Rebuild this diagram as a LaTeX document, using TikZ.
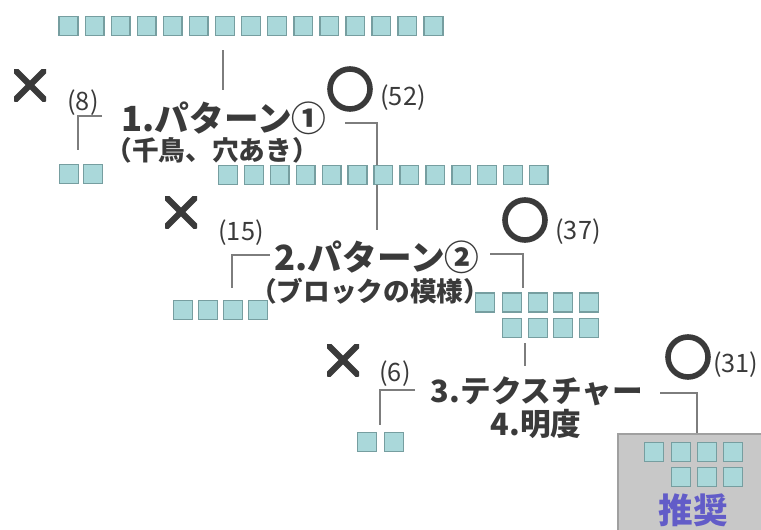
\documentclass[tikz,border=0pt]{standalone}
\usepackage{fontspec}
\newfontfamily\jpfont{Noto Sans CJK JP}
\usetikzlibrary{positioning, calc}
\definecolor{inkgray}{RGB}{58,58,58}
\definecolor{linegray}{RGB}{125,125,125}
\definecolor{tileface}{RGB}{170,216,218}
\definecolor{tileedge}{RGB}{118,158,160}
\definecolor{boxface}{RGB}{200,200,200}
\definecolor{boxedge}{RGB}{160,160,160}
\definecolor{pickblue}{RGB}{98,92,200}

\begin{document}
\begin{tikzpicture}[x=0.75pt, y=-0.75pt,
	tile/.style = {rectangle, draw=tileedge, fill=tileface, line width=1.1pt, minimum size=14pt, inner sep=0pt},
	title/.style = {font=\jpfont\bfseries\fontsize{26}{26}\selectfont, text=inkgray, inner sep=0pt},
	title2/.style = {font=\jpfont\bfseries\fontsize{23}{23}\selectfont, text=inkgray, inner sep=0pt},
	sub/.style = {font=\jpfont\bfseries\fontsize{20}{20}\selectfont, text=inkgray, inner sep=0pt},
	count/.style = {font=\jpfont\fontsize{19}{19}\selectfont, text=inkgray, inner sep=0pt},
	ok/.style = {circle, draw=inkgray, line width=4.2pt, minimum size=30pt, inner sep=0pt},
	ng/.style = {minimum size=24pt, inner sep=0pt,
		path picture={\draw[inkgray, line width=4.6pt]
			(path picture bounding box.north west) -- (path picture bounding box.south east)
			(path picture bounding box.south west) -- (path picture bounding box.north east);}},
	link/.style = {draw=linegray, line width=1.5pt},
]
\clip (0,0) rectangle (761,529);
\useasboundingbox (0,0) rectangle (761,529);

% recommended box
\node[draw=boxedge, fill=boxface, line width=1.2pt, minimum width=120pt, minimum height=90pt, anchor=north west] (rec) at (617,433) {};

% connectors first, so tiles sit on top
\coordinate (k1a) at (102,116);
\coordinate (k1b) at (78,150);
\coordinate (k1c) at (345,123);
\coordinate (k1d) at (377,230);
\coordinate (k2a) at (270,255);
\coordinate (k2b) at (232,288);
\coordinate (k2c) at (490,254);
\coordinate (k2d) at (523,288);
\coordinate (k3a) at (415,390);
\coordinate (k3b) at (380,425);
\coordinate (k3c) at (660,393);
\coordinate (k3d) at (697,433);
\coordinate (s1a) at (223,50);
\coordinate (s1b) at (223,90);
\coordinate (s3a) at (525,343);
\coordinate (s3b) at (525,366);

\draw[link] (s1a) -- (s1b);
\draw[link] (k1a) -| (k1b);
\draw[link] (k1c) -| (k1d);
\draw[link] (k2a) -| (k2b);
\draw[link] (k2c) -| (k2d);
\draw[link] (s3a) -- (s3b);
\draw[link] (k3a) -| (k3b);
\draw[link] (k3c) -| (k3d);

% tiles
\foreach \i in {0,...,14}
	\node[tile] (a\i) at ({68.5+26.07*\i},26) {};
\node[tile] (b1) at (69,174) {};
\node[tile] (b2) at (93,174) {};
\foreach \i in {0,...,12}
	\node[tile] (c\i) at ({228+25.9*\i},175) {};
\foreach \x [count=\i] in {183,208,233,258}
	\node[tile] (d\i) at (\x,310) {};
\foreach \x [count=\i] in {485,512,538,563,589}
	\node[tile] (e\i) at (\x,302.5) {};
\foreach \x [count=\i] in {512,538,563,589}
	\node[tile] (f\i) at (\x,328) {};
\node[tile] (g1) at (367,442) {};
\node[tile] (g2) at (394,442) {};
\foreach \x [count=\i] in {654,681,707,733}
	\node[tile] (h\i) at (\x,452) {};
\foreach \x [count=\i] in {681,707,733}
	\node[tile] (m\i) at (\x,477) {};
\node[font=\jpfont\bfseries\fontsize{26}{26}\selectfont, text=pickblue, inner sep=0pt] (pick) at (693,510) {推奨};

% labels
\node[title] (pat1) at (224,118) {1.パターン①};
\node[sub] (sub1) at (212,150) {（千鳥、穴あき）};
\node[title] (pat2) at (377,257) {2.パターン②};
\node[sub] (sub2) at (370,291) {（ブロックの模様）};
\node[title2] (pat3) at (537,391) {3.テクスチャー};
\node[title2] (pat4) at (536,424) {4.明度};

\node[ng] (ng1) at (30,85) {};
\node[count] (n1) at (83,103) {(8)};
\node[ok] (ok1) at (350,89) {};
\node[count] (y1) at (403,98) {(52)};

\node[ng] (ng2) at (181,212) {};
\node[count] (n2) at (241,233) {(15)};
\node[ok] (ok2) at (525,220) {};
\node[count] (y2) at (578,232) {(37)};

\node[ng] (ng3) at (343,360) {};
\node[count] (n3) at (395,374) {(6)};
\node[ok] (ok3) at (688,357) {};
\node[count, anchor=west] (y3) at (713,365) {(31)};
\end{tikzpicture}
\end{document}
